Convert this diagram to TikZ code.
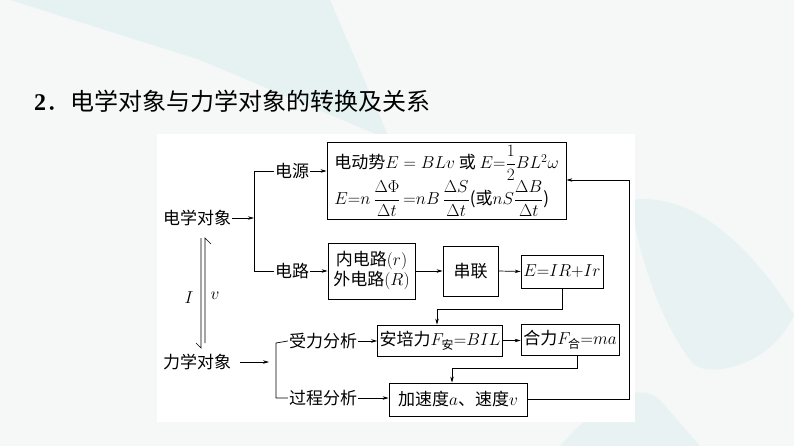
\documentclass[tikz,border=0pt]{standalone}
\usepackage{fontspec}
\usepackage{amsmath}
\newfontfamily\cjk{Noto Sans CJK SC}
\newfontfamily\tnr{Liberation Serif}
\usetikzlibrary{arrows.meta}
\definecolor{bgc}{HTML}{F6F7F7}
\definecolor{tealc}{HTML}{DCEFF0}
\begin{document}
\begin{tikzpicture}[x=1pt,y=-1pt,
  box/.style={draw, line width=0.8pt, inner sep=2pt, font=\cjk\fontsize{17}{20}\selectfont},
  lbl/.style={inner sep=1pt, font=\cjk\fontsize{17}{20}\selectfont},
  arr/.style={-{Stealth[length=6pt,width=3.5pt]}, line width=0.7pt},
  ln/.style={line width=0.7pt}]
\useasboundingbox (0,0) rectangle (794,446);
% background
\fill[bgc] (0,0) rectangle (794,446);
\fill[tealc,opacity=0.6] (10,0) -- (330,0) -- (390,140) -- (200,60) -- cycle;
\fill[tealc,opacity=0.5] (630,200) .. controls (700,190) and (760,260) .. (794,315) .. controls (770,370) and (700,380) .. (690,360) .. controls (660,320) and (640,260) .. cycle;
\fill[tealc,opacity=0.5] (560,446) .. controls (600,400) and (640,380) .. (660,400) -- (700,446) -- cycle;
\fill[white] (157,134) rectangle (635,422);
% title
\node[anchor=west, inner sep=0pt, font=\cjk\fontsize{24}{26}\selectfont] (title) at (34,101) {{\tnr\bfseries 2}．电学对象与力学对象的转换及关系};
% left labels
\node[lbl] (edx) at (197,218) {电学对象};
\node[lbl] (lx) at (197,362) {力学对象};
\node[lbl] (ly) at (292,171) {电源};
\node[lbl] (dl) at (292,271) {电路};
\node[lbl] (sf) at (323,341) {受力分析};
\node[lbl] (gc) at (323,398) {过程分析};
% boxes
\node[box, minimum width=239, minimum height=77, align=left, inner sep=2pt, font=\cjk\fontsize{17}{20}\selectfont] (b1) at (446.5,181)
  {电动势$E = BLv$ 或 $E{=}\dfrac{1}{2}BL^2\omega$\\[0pt]
   $E{=}n\,\dfrac{\Delta\Phi}{\Delta t}\,{=}nB\,\dfrac{\Delta S}{\Delta t}$(或$nS\dfrac{\Delta B}{\Delta t}$)};
\node[box, minimum width=87, minimum height=56, align=center] (b2) at (371.5,271) {内电路$(r)$\\外电路$(R)$};
\node[box, minimum width=55, minimum height=50] (b3) at (470.5,271) {串联};
\node[box, minimum width=82, minimum height=33] (b4) at (562,271.5) {$E{=}IR{+}Ir$};
\node[box, minimum width=118, minimum height=31] (b5) at (440,340.5) {安培力$F_{\text{安}}{=}BIL$};
\node[box, minimum width=98, minimum height=31] (b6) at (570,339.5) {合力$F_{\text{合}}{=}ma$};
\node[box, minimum width=138, minimum height=33] (b7) at (458,399.5) {加速度$a$、速度$v$};
% upper bracket
\coordinate (j1) at (254,218);
\coordinate (j1t) at (254,171);
\coordinate (j1b) at (254,271);
\draw[arr] (edx.east) -- (j1);
\draw[ln] (ly.west) -- (j1t) -- (j1b) -- (dl.west);
\draw[arr] (ly.east) -- (b1.west |- ly.east);
\draw[arr] (dl.east) -- (b2.west |- dl.east);
\draw[arr] (b2.east) -- (b3.west);
\draw[arr] (b3.east) -- (b4.west);
% lower bracket
\coordinate (j2t) at (276,343);
\coordinate (j2b) at (276,398);
\coordinate (lxe) at (240,362);
\coordinate (lxa) at (269,362);
\draw[arr] (lxe) -- (lxa);
\draw[ln] (sf.west) -- (j2t) -- (j2b) -- (gc.west);
\draw[arr] (sf.east) -- (b5.west |- sf.east);
\draw[arr] (gc.east) -- (b7.west |- gc.east);
\draw[arr] (b5.east) -- (b6.west |- b5.east);
% E -> Ampere
\coordinate (c1) at (562,309);
\coordinate (c2) at (437,309);
\draw[arr] (b4.south) -- (c1) -- (c2) -- (c2 |- b5.north);
% F -> a
\coordinate (c3) at (577,368);
\coordinate (c4) at (452,368);
\draw[arr] (b6.south -| c3) -- (c3) -- (c4) -- (c4 |- b7.north);
% feedback
\coordinate (f1) at (629,399.5);
\coordinate (f2) at (629,180);
\draw[arr] (b7.east) -- (f1) -- (f2) -- (b1.east |- f2);
% double harpoon I / v
\coordinate (h1) at (201,238);
\coordinate (h2) at (201,348);
\coordinate (h3) at (205,343);
\coordinate (h4) at (205,238);
\draw[ln] (h1) -- (h2) -- ++(-5,-5);
\draw[ln] (h3) -- (h4) -- ++(6,6);
\node[lbl, font=\fontsize{17}{20}\selectfont] (lI) at (189,298) {$I$};
\node[lbl, font=\fontsize{17}{20}\selectfont] (lv) at (215,296) {$v$};
\end{tikzpicture}
\end{document}
